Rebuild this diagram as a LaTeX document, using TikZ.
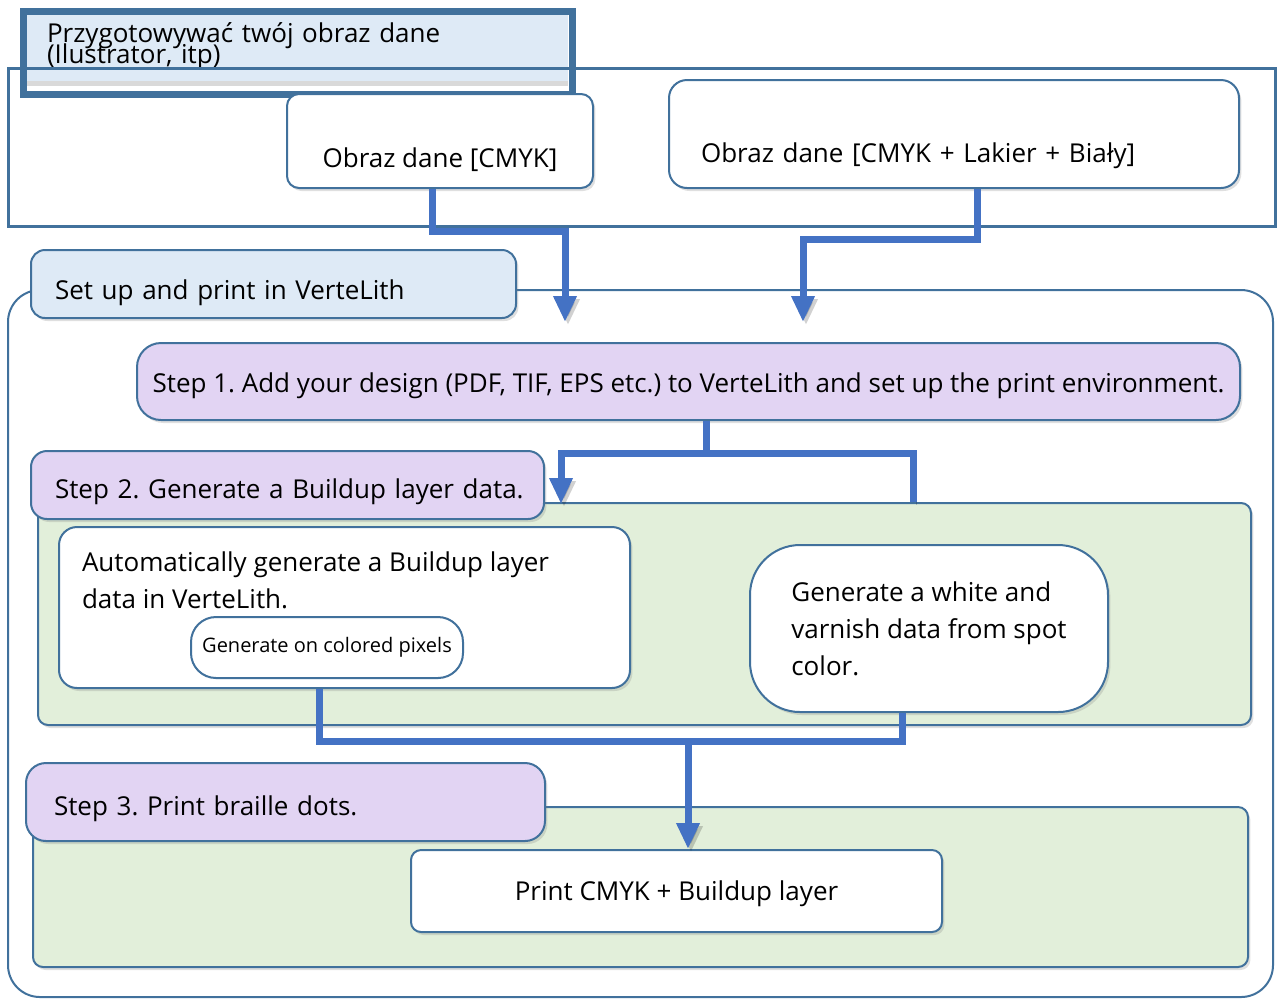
\documentclass[tikz,border=0pt]{standalone}
\usepackage{fontspec}
\setmainfont{Open Sans}
\usetikzlibrary{arrows.meta,shadows,positioning}

\definecolor{linecol}{RGB}{65,113,156}
\definecolor{flowcol}{RGB}{68,114,196}
\definecolor{paleblue}{RGB}{222,234,246}
\definecolor{lavender}{RGB}{226,212,243}
\definecolor{palegreen}{RGB}{226,239,218}

\tikzset{
	base/.style={draw=linecol, line width=1pt, inner sep=3pt, font=\fontsize{13}{18.5}\selectfont},
	oneline/.style={text height=#1, text depth=1.5pt},
	oneline/.default=10.5pt,
	softshadow/.style={drop shadow={shadow xshift=1.2pt, shadow yshift=-1.5pt, opacity=0.25}},
	whitebox/.style={base, fill=white, rounded corners=6pt, softshadow},
	headbox/.style={base, fill=paleblue, rounded corners=7pt, softshadow},
	stepbox/.style={base, fill=lavender, rounded corners=10pt, softshadow},
	panel/.style={draw=linecol, line width=1pt, fill=palegreen, rounded corners=5pt, softshadow},
	tagbox/.style={base, fill=white, rounded corners=12.5pt, font=\fontsize{10}{12}\selectfont},
	link/.style={draw=flowcol, line width=3.5pt, preaction={draw=black, opacity=0.18, transform canvas={shift={(1.5pt,-1.5pt)}}}},
	flow/.style={link, -{Triangle[width=11pt,length=13pt]}},
}

\begin{document}
\frenchspacing
\begin{tikzpicture}[x=0.5pt, y=-0.5pt]
	\useasboundingbox (0,0) rectangle (1277,998);

	\node[draw=linecol, line width=1pt, rounded corners=16pt, minimum width=632.5pt, minimum height=353.5pt] (vertelith) at (640.5,643.5) {};

	\node[fill=paleblue, inner xsep=11pt, inner ysep=0pt, minimum width=271.5pt, minimum height=35pt, text width=249.5pt, align=left,
		font=\fontsize{13}{13}\selectfont, drop shadow={shadow xshift=0pt, shadow yshift=-2.5pt, opacity=0.3}] (prephead) at (296.5,46)
		{Przygotowywać twój obraz dane\\[-2.5pt](Ilustrator, itp)};
	\node[draw=linecol, line width=1.5pt, inner sep=0pt, minimum width=633.5pt, minimum height=79pt] (prep) at (641.5,147) {};
	\node[draw=linecol, line width=3.5pt, inner sep=0pt, minimum width=274.5pt, minimum height=41.5pt] (prepframe) at (298,53) {};

	\node[whitebox, oneline=27.5pt, minimum width=153pt, minimum height=47pt] (cmyk) at (440,141) {Obraz dane [CMYK]};
	\node[whitebox, rounded corners=9pt, oneline=29.5pt, minimum width=285pt, minimum height=54pt, inner xsep=16pt, text width=253pt, align=left] (lakier) at (954,134) {Obraz dane [CMYK + Lakier + Biały]};

	\node[headbox, oneline=16.5pt, minimum width=242.5pt, minimum height=34pt, inner xsep=12pt, text width=218.5pt, align=left] (setup) at (273.5,284) {Set up and print in VerteLith};
	\node[stepbox, rounded corners=12pt, oneline=12pt, minimum width=551.5pt, minimum height=38.5pt] (step1) at (688.5,381.5) {Step 1. Add your design (PDF, TIF, EPS etc.) to VerteLith and set up the print environment.};

	\node[panel, minimum width=606.5pt, minimum height=111pt] (green2) at (644.5,614) {};
	\node[stepbox, rounded corners=8pt, oneline=14.5pt, minimum width=256.5pt, minimum height=34pt, inner xsep=12pt, text width=232.5pt, align=left] (step2) at (287.5,485) {\mbox{Step 2. Generate a Buildup layer data.}};
	\node[whitebox, rounded corners=9pt, minimum width=285.5pt, minimum height=80.5pt, inner xsep=11.5pt, inner ysep=0pt] (auto) at (344.5,607.5)
		{\parbox[c][55.5pt][t]{262.5pt}{Automatically generate a Buildup layer\\data in VerteLith.}};
	\node[tagbox, minimum width=136pt, minimum height=30.5pt] (pixels) at (327,647.5) {Generate on colored pixels};
	\node[whitebox, rounded corners=25pt, minimum width=179pt, minimum height=83.5pt, align=left] (spot) at (929,628.5) {Generate a white and\\varnish data from spot\\color.};

	\node[panel, minimum width=607.5pt, minimum height=80pt] (green3) at (640.5,887) {};
	\node[stepbox, oneline=14.5pt, minimum width=259.5pt, minimum height=39pt, inner xsep=14pt, text width=231.5pt, align=left] (step3) at (285.5,802) {Step 3. Print braille dots.};
	\node[whitebox, rounded corners=5pt, oneline, minimum width=265.5pt, minimum height=41pt] (print) at (676.5,891) {Print CMYK + Buildup layer};

	\coordinate (cmykin) at (565,322);
	\coordinate (lakin) at (803,322);
	\coordinate (step2in) at (561,504);
	\coordinate (merge) at (688,741);

	\draw[flow] ([xshift=-4pt]cmyk.south) -- ++(0,42) -| (cmykin);
	\draw[flow] ([xshift=11.5pt]lakier.south) -- ++(0,50) -| (lakin);
	\draw[flow] ([xshift=8.75pt]step1.south) -- ++(0,32) -| (step2in);
	\draw[link] ([xshift=8.75pt]step1.south) -- ++(0,32) -| ([xshift=134.25pt]green2.north);
	\draw[link] ([xshift=-12.75pt]auto.south) |- (merge);
	\draw[link] ([xshift=-13.5pt]spot.south) |- (merge);
	\draw[flow] (merge) -- ([xshift=5.75pt]print.north);
\end{tikzpicture}
\end{document}
